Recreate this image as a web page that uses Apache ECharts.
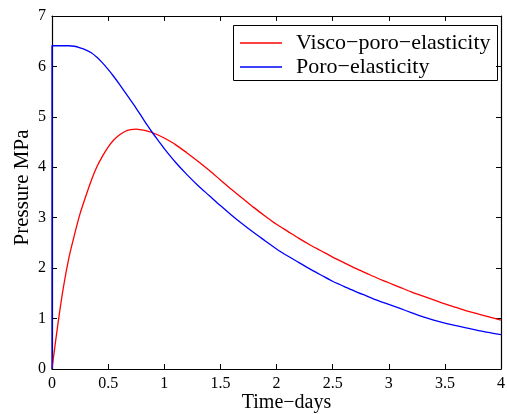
<!DOCTYPE html>
<html><head><meta charset="utf-8">
<script src="https://cdn.jsdelivr.net/npm/echarts@6/dist/echarts.min.js"></script>
<style>html,body{margin:0;padding:0;background:#fff}#c{width:507px;height:414px}</style>
</head><body><div id="c"></div>
<script>
const timeDays = [0, 0.05, 0.1, 0.15, 0.2, 0.25, 0.3, 0.35, 0.4, 0.45, 0.5, 0.55, 0.6, 0.65, 0.7, 0.75, 0.8, 0.85, 0.9, 0.95, 1.0,
  1.1, 1.2, 1.3, 1.4, 1.5, 1.6, 1.7, 1.8, 1.9, 2.0, 2.1, 2.2, 2.3, 2.4, 2.5, 2.6, 2.7, 2.8, 2.9, 3.0, 3.1, 3.2, 3.3, 3.4, 3.5, 3.6, 3.7, 3.8, 3.9, 4.0];
const viscoPoro = [0, 0.85, 1.6, 2.2, 2.66, 3.08, 3.42, 3.74, 4.01, 4.22, 4.40, 4.54, 4.64, 4.71, 4.745, 4.755, 4.74, 4.715, 4.68, 4.635, 4.58,
  4.45, 4.29, 4.12, 3.94, 3.75, 3.56, 3.38, 3.20, 3.03, 2.87, 2.73, 2.59, 2.46, 2.34, 2.22, 2.11, 2.00, 1.90, 1.80, 1.71, 1.62, 1.53, 1.45, 1.37, 1.29, 1.22, 1.15, 1.09, 1.03, 0.97];
const poroStart = [0, 0];  // vertical jump at t = 0
const poro = [6.41, 6.41, 6.41, 6.41, 6.40, 6.37, 6.33, 6.27, 6.18, 6.07, 5.94, 5.80, 5.65, 5.49, 5.33, 5.17, 5.00, 4.83, 4.67, 4.52, 4.37,
  4.10, 3.86, 3.64, 3.44, 3.24, 3.05, 2.87, 2.70, 2.54, 2.38, 2.24, 2.11, 1.98, 1.86, 1.74, 1.64, 1.54, 1.45, 1.36, 1.28, 1.20, 1.12, 1.04, 0.97, 0.91, 0.86, 0.81, 0.76, 0.72, 0.68];
const xTicks = [0, 0.5, 1, 1.5, 2, 2.5, 3, 3.5, 4];
const yTicks = [0, 1, 2, 3, 4, 5, 6, 7];
const seriesNames = ['Visco\u2212poro\u2212elasticity', 'Poro\u2212elasticity'];

const font = 'Liberation Serif';
const redData = timeDays.map((t, i) => [t, viscoPoro[i]]);
const blueData = [[poroStart[0], poroStart[1]]].concat(timeDays.map((t, i) => [t, poro[i]]));

const chart = echarts.init(document.getElementById('c'), null, {renderer: 'canvas'});
const axisCommon = {
  type: 'value', splitLine: {show: false},
  axisLine: {show: true, onZero: false, lineStyle: {color: '#000', width: 1.2}},
  axisTick: {show: true, inside: true, length: 5, lineStyle: {color: '#000', width: 1}},
};
chart.setOption({
  animation: false,
  backgroundColor: '#fff',
  grid: {left: 52, right: 6, top: 16, bottom: 45, containLabel: false, outerBoundsMode: 'none'},
  xAxis: [
    Object.assign({}, axisCommon, {
      min: 0, max: 4, interval: 0.5, position: 'bottom',
      axisLabel: {color: '#000', fontFamily: font, fontSize: 16, margin: 7, customValues: xTicks},
      axisTick: Object.assign({}, axisCommon.axisTick, {customValues: xTicks}),
      name: 'Time\u2212days', nameLocation: 'middle', nameGap: 24, nameMoveOverlap: false,
      nameTextStyle: {color: '#000', fontFamily: font, fontSize: 20, verticalAlign: 'top', padding: [0, 0, 0, 20]}
    }),
    Object.assign({}, axisCommon, {
      min: 0, max: 4, interval: 0.5, position: 'top',
      axisLabel: {show: false}
    })
  ],
  yAxis: [
    Object.assign({}, axisCommon, {
      min: 0, max: 7, interval: 1, position: 'left',
      axisLabel: {color: '#000', fontFamily: font, fontSize: 16, margin: 6, customValues: yTicks},
      axisTick: Object.assign({}, axisCommon.axisTick, {customValues: yTicks}),
      name: 'Pressure MPa', nameLocation: 'middle', nameGap: 19, nameMoveOverlap: false,
      nameTextStyle: {color: '#000', fontFamily: font, fontSize: 21, padding: [0, 0, 0, 10]}
    }),
    Object.assign({}, axisCommon, {
      min: 0, max: 7, interval: 1, position: 'right',
      axisLabel: {show: false}
    })
  ],
  legend: {
    left: 235, top: 27, orient: 'vertical', itemGap: 2,
    icon: 'rect', itemWidth: 42, itemHeight: 1.3,
    textStyle: {color: '#000', fontFamily: font, fontSize: 22, padding: [0, 0, 0, 9]},
    data: seriesNames
  },
  graphic: [{
    type: 'rect', left: 231, top: 23, z: 100, silent: true,
    shape: {width: 264, height: 55},
    style: {fill: 'none', stroke: '#000', lineWidth: 1}
  }],
  series: [
    {name: seriesNames[0], type: 'line', data: redData, symbol: 'none', smooth: 0.3,
      lineStyle: {color: '#ff0000', width: 1.3}, itemStyle: {color: '#ff0000'}, clip: false},
    {name: seriesNames[1], type: 'line', data: blueData, symbol: 'none', smooth: 0.3,
      lineStyle: {color: '#0000ff', width: 1.3}, itemStyle: {color: '#0000ff'}, clip: false}
  ]
});
</script></body></html>
